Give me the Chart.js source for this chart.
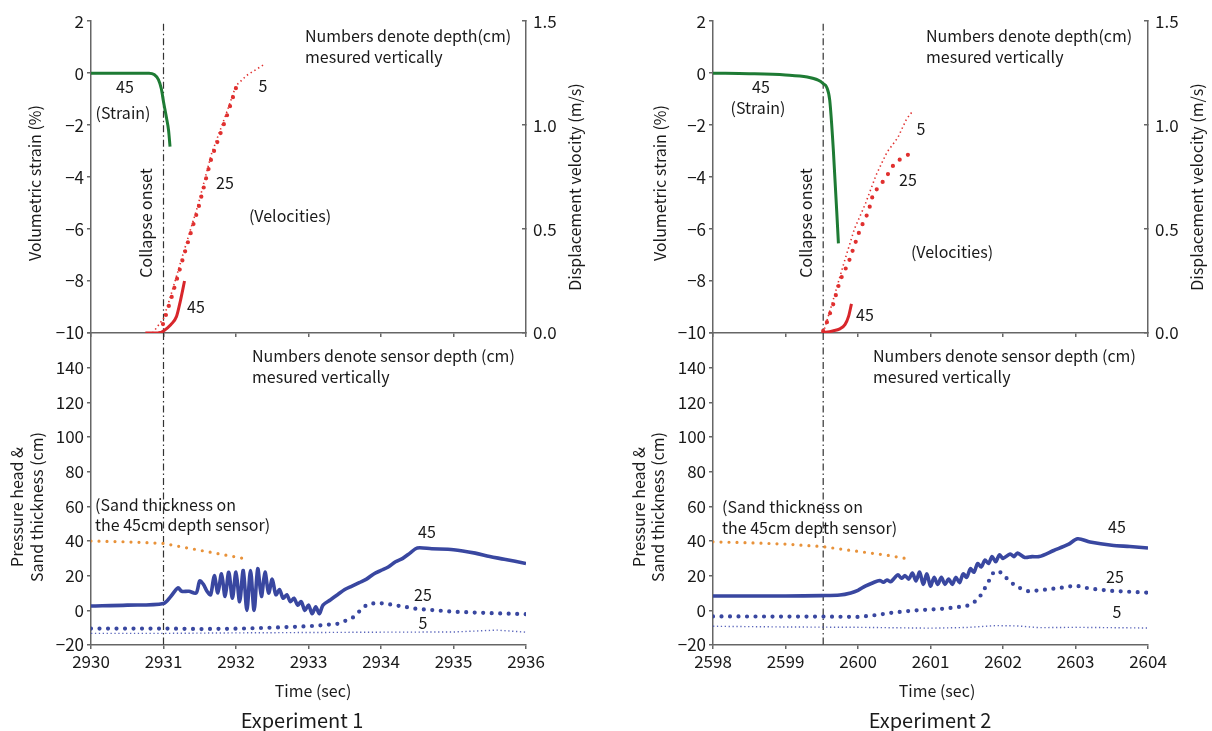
<!DOCTYPE html>
<html>
<head>
<meta charset="utf-8">
<title>Collapse onset — Experiment 1 / Experiment 2</title>
<script src="https://cdn.jsdelivr.net/npm/chart.js@4.4.1/dist/chart.umd.min.js"></script>
<style>
  html, body { margin: 0; padding: 0; background: #fff; }
  #page { position: relative; width: 1212px; height: 731px; overflow: hidden; }
  #page canvas { position: absolute; left: 0; top: 0; }
</style>
</head>
<body>
<div id="page">
  <canvas id="top1" width="1212" height="731"></canvas>
  <canvas id="bot1" width="1212" height="731"></canvas>
  <canvas id="top2" width="1212" height="731"></canvas>
  <canvas id="bot2" width="1212" height="731"></canvas>
</div>
<script>
// ── Datos: [tiempo (s), valor] ─────────────────────────────────────────────────
const timeTicks1 = [2930, 2931, 2932, 2933, 2934, 2935, 2936];
const timeTicks2 = [2598, 2599, 2600, 2601, 2602, 2603, 2604];
const strainTicks = [-10, -8, -6, -4, -2, 0, 2];
const velocityTicks = [0, 0.5, 1.0, 1.5];
const headTicks = [-20, 0, 20, 40, 60, 80, 100, 120, 140, 160];

const onset1 = 2931.0;
const onset2 = 2599.52;

// Experiment 1 — parte superior
const strain1 = [[2930,0],[2930.5,0],[2930.8,0],[2930.87,-0.05],[2930.93,-0.25],[2930.97,-0.6],[2931.0,-1.1],[2931.04,-1.7],[2931.07,-2.2],[2931.09,-2.83]];
const vel45_1 = [[2930.75,0],[2930.95,0],[2931.0,0.01],[2931.1,0.04],[2931.18,0.08],[2931.23,0.15],[2931.29,0.25]];
const vel25_1 = [[2930.95,0],[2931.0,0.05],[2931.11,0.17],[2931.27,0.36],[2931.48,0.60],[2931.66,0.84],[2931.87,1.04],[2932.01,1.19]];
const vel5_1  = [[2930.85,0],[2931.0,0.07],[2931.1,0.18],[2931.27,0.38],[2931.48,0.62],[2931.66,0.86],[2931.87,1.06],[2932.0,1.19],[2932.15,1.24],[2932.38,1.29]];

// Experiment 1 — parte inferior
const head45_1 = [[2930,2.5],[2930.5,3],[2931,4],[2931.1,8],[2931.2,13],[2931.25,11],[2931.35,11],[2931.45,10],[2931.5,17],[2931.55,15],
  [2931.6,11],[2931.65,9],[2931.7,20],[2931.75,10],[2931.8,21],[2931.85,8],[2931.9,22],[2931.95,7],[2932.0,22],[2932.05,5],
  [2932.1,23],[2932.15,0],[2932.2,23],[2932.25,0],[2932.3,24],[2932.35,8],[2932.4,22],[2932.45,10],[2932.5,18],[2932.55,9],
  [2932.6,12],[2932.65,7],[2932.7,9],[2932.75,5],[2932.8,7],[2932.85,3],[2932.9,5],[2932.95,0],[2933.0,3],[2933.05,-2],
  [2933.1,2],[2933.15,-2],[2933.2,3],[2933.3,6],[2933.4,9],[2933.5,12],[2933.6,14],[2933.7,16],[2933.8,18],[2933.9,21],
  [2934.0,23],[2934.1,25],[2934.2,28],[2934.3,30],[2934.4,33],[2934.5,36],[2934.7,35.5],[2935.0,35],[2935.3,33],[2935.5,31],
  [2935.7,29.5],[2936.0,27]];
const head25_1 = [[2930,-10.5],[2930.5,-10.5],[2931,-10.5],[2931.5,-10.8],[2932,-10.6],[2932.5,-10],[2933.0,-9.2],[2933.4,-7.8],[2933.6,-4.6],
  [2933.68,-1.5],[2933.75,1.5],[2933.82,3.6],[2933.95,4.3],[2934.1,3.6],[2934.3,2.2],[2934.5,0.8],[2935,-0.8],[2935.5,-1.6],[2936,-2.2]];
const head5_1 = [[2930,-13.3],[2931,-13.3],[2932,-13],[2933,-12.8],[2934,-12.6],[2935,-12.5],[2935.6,-11.4],[2936,-12.6]];
const sand1 = [[2930,40],[2930.5,39.5],[2931,38.6],[2931.38,35.6],[2931.75,32.7],[2932.16,29.5]];

// Experiment 2 — parte superior
const strain2 = [[2598,0],[2598.5,-0.02],[2599.0,-0.07],[2599.3,-0.15],[2599.45,-0.27],[2599.52,-0.4],[2599.57,-0.55],[2599.61,-1.04],[2599.66,-2.96],[2599.73,-6.55]];
const vel45_2 = [[2599.5,0],[2599.65,0.01],[2599.75,0.02],[2599.82,0.04],[2599.87,0.08],[2599.91,0.14]];
const vel25_2 = [[2599.52,0.01],[2599.55,0.03],[2599.66,0.14],[2599.75,0.25],[2599.87,0.34],[2600.03,0.50],[2600.14,0.58],[2600.21,0.67],[2600.37,0.74],[2600.51,0.82],[2600.65,0.85],[2600.76,0.87]];
const vel5_2  = [[2599.52,0],[2599.65,0.15],[2599.8,0.33],[2599.95,0.5],[2600.1,0.62],[2600.25,0.76],[2600.4,0.87],[2600.55,0.94],[2600.67,1.03],[2600.76,1.07]];

// Experiment 2 — parte inferior
const head45_2 = [[2598,8.3],[2599,8.3],[2599.5,8.5],[2599.75,8.8],[2599.9,10],[2600.0,11.5],[2600.1,14],[2600.2,15.8],[2600.3,17.2],[2600.35,16.2],
  [2600.4,17.5],[2600.45,16.5],[2600.5,18.5],[2600.55,20.5],[2600.6,18.5],[2600.65,20],[2600.7,18],[2600.75,21.5],[2600.8,17],[2600.85,22],
  [2600.9,15],[2600.95,21],[2601.0,14],[2601.05,19],[2601.1,15],[2601.15,19],[2601.2,15],[2601.25,18],[2601.3,15],[2601.35,19],
  [2601.4,16],[2601.45,21],[2601.5,19],[2601.55,24],[2601.6,22],[2601.65,27],[2601.7,25],[2601.75,29],[2601.8,27],[2601.85,31],
  [2601.9,28],[2601.95,32],[2602.0,30],[2602.1,32.5],[2602.15,31],[2602.2,33],[2602.3,30.5],[2602.4,31],[2602.5,31],[2602.7,34.5],
  [2602.9,38],[2603.03,41.3],[2603.2,39.4],[2603.5,37.5],[2603.75,36.8],[2604,36]];
const head25_2 = [[2598,-3.5],[2599,-3.6],[2599.5,-3.6],[2600.0,-3.8],[2600.2,-3],[2600.5,-1.2],[2600.8,0],[2601.2,1],[2601.5,2.5],[2601.6,4.5],
  [2601.7,9],[2601.78,15],[2601.87,22],[2601.95,22.5],[2602.05,18.5],[2602.18,13.7],[2602.35,11],[2602.5,11.5],[2602.8,13],[2603.0,14.3],
  [2603.2,12.5],[2603.5,11.2],[2604,10.2]];
const head5_2 = [[2598,-9.2],[2599,-9.6],[2600,-9.8],[2601,-10.3],[2601.5,-9.9],[2601.9,-8.8],[2602.2,-9.0],[2602.5,-10],[2603,-9.8],[2604,-10.2]];
const sand2 = [[2598,39.5],[2598.5,39],[2599,38.2],[2599.5,36.8],[2600,34],[2600.4,31.8],[2600.72,29.5]];

// ── Estilos / geometría ───────────────────────────────────────────────────────
const W = 1212, H = 731;
const AREA_TOP = 21, AREA_MID = 333, AREA_BOTTOM = 645;
const EXP1 = { left: 91, right: 526 };
const EXP2 = { left: 713, right: 1148 };

const FONT = "'Noto Sans CJK JP', 'Liberation Sans', sans-serif";
const TEXT = '#1a1a1a';
const AXIS = '#666';
const BLUE = '#3947a0', BLUE_LIGHT = '#5b66bb';
const GREEN = '#1e7b34', RED = '#d8262b', RED_DOT = '#e0302f', ORANGE = '#e8923a';

Chart.defaults.font.family = FONT;
Chart.defaults.color = TEXT;

const pts = arr => arr.map(([x, y]) => ({ x, y }));
const minus = v => String(v).replace('-', '\u2212');

const solid  = (data, color, width, yAxisID, tension, smooth) => ({ data: pts(data), borderColor: color, borderWidth: width, yAxisID, pointRadius: 0, cubicInterpolationMode: smooth ? 'monotone' : 'default', tension, borderJoinStyle: 'round' });
const bigDot = (data, color, width, gap, yAxisID) => ({ data: pts(data), borderColor: color, borderWidth: width, borderDash: [0, gap], borderCapStyle: 'round', yAxisID, pointRadius: 0, tension: 0 });
const fine   = (data, color, width, dash, yAxisID) => ({ data: pts(data), borderColor: color, borderWidth: width, borderDash: dash, yAxisID, pointRadius: 0, tension: 0 });
const onsetLine = (t, y0, y1, yAxisID) => ({ data: [{ x: t, y: y0 }, { x: t, y: y1 }], borderColor: '#333', borderWidth: 1.2, borderDash: [7, 3, 1.5, 3], yAxisID, pointRadius: 0 });

const gridOut = { drawOnChartArea: false, drawTicks: true, tickLength: 4, color: AXIS, lineWidth: 1.5 };
const border = { display: true, color: AXIS, width: 1.5 };
const tickFont = { size: 17 };

// ── Textos sobre el lienzo ───────────────────────────────────────────────────
function notesPlugin(notes) {
  return {
    id: 'notes',
    afterDraw(chart) {
      const ctx = chart.ctx;
      ctx.save();
      ctx.fillStyle = TEXT;
      ctx.textBaseline = 'middle';
      notes.forEach(n => {
        ctx.font = `${n.size || 16}px ${FONT}`;
        ctx.textAlign = n.align || 'center';
        ctx.save();
        ctx.translate(n.x, n.y);
        if (n.rotate) ctx.rotate(-Math.PI / 2);
        ctx.fillText(n.text, 0, 0);
        ctx.restore();
      });
      ctx.restore();
    }
  };
}

// ── Panel superior: deformación + velocidades ────────────────────────────────
function topPanel(id, box, ticksT, onset, strain, v45, v25, v5, notes) {
  return new Chart(document.getElementById(id), {
    type: 'line',
    data: {
      datasets: [
        solid(strain, GREEN, 3, 'y', 0, true),
        solid(v45, RED, 3, 'y1', 0, true),
        bigDot(v25, RED_DOT, 4.2, 9.5, 'y1'),
        fine(v5, RED_DOT, 1.6, [1.4, 3], 'y1'),
        onsetLine(onset, 1.9, -10, 'y'),
      ],
    },
    options: {
      responsive: false, animation: false, devicePixelRatio: 1,
      layout: { padding: { left: 0, right: 0, top: AREA_TOP, bottom: H - AREA_MID - 6 } },
      plugins: { legend: { display: false }, tooltip: { enabled: false } },
      scales: {
        x: {
          type: 'linear', min: ticksT[0], max: ticksT[ticksT.length - 1],
          ticks: { display: false, stepSize: 1 },
          grid: gridOut, border,
          afterFit: s => { s.height = 6; },
        },
        y: {
          type: 'linear', position: 'left', min: strainTicks[0], max: strainTicks[strainTicks.length - 1],
          ticks: { stepSize: 2, callback: minus, font: tickFont, padding: 3 },
          grid: gridOut, border,
          afterFit: s => { s.width = box.left; },
        },
        y1: {
          type: 'linear', position: 'right', min: velocityTicks[0], max: velocityTicks[velocityTicks.length - 1],
          ticks: { stepSize: 0.5, callback: v => v.toFixed(1), font: tickFont, padding: 11 },
          grid: { drawOnChartArea: false, drawTicks: true, tickLength: -4, color: AXIS, lineWidth: 1.5 },
          border,
          afterFit: s => { s.width = W - box.right; },
        },
      },
    },
    plugins: [notesPlugin(notes)],
  });
}

// ── Panel inferior: presión + espesor de arena ───────────────────────────────
function bottomPanel(id, box, ticksT, onset, h45, h25, h5, sand, notes) {
  return new Chart(document.getElementById(id), {
    type: 'line',
    data: {
      datasets: [
        solid(h45, BLUE, 3.6, 'y', 0.3, false),
        bigDot(h25, BLUE, 4.2, 8.5, 'y'),
        fine(h5, BLUE_LIGHT, 1.4, [1.3, 2.6], 'y'),
        bigDot(sand, ORANGE, 3.2, 8, 'y'),
        onsetLine(onset, 160, -20, 'y'),
      ],
    },
    options: {
      responsive: false, animation: false, devicePixelRatio: 1,
      layout: { padding: { left: 0, right: W - box.right, top: AREA_MID, bottom: H - AREA_BOTTOM - 40 } },
      plugins: { legend: { display: false }, tooltip: { enabled: false } },
      scales: {
        x: {
          type: 'linear', min: ticksT[0], max: ticksT[ticksT.length - 1],
          ticks: { stepSize: 1, callback: v => String(v), font: tickFont, padding: 2, maxRotation: 0 },
          grid: gridOut, border,
          afterFit: s => { s.height = 40; },
        },
        y: {
          type: 'linear', position: 'left', min: headTicks[0], max: headTicks[headTicks.length - 1],
          ticks: { stepSize: 20, callback: v => (v === 160 ? '' : minus(v)), font: tickFont, padding: 3 },
          grid: gridOut, border,
          afterFit: s => { s.width = box.left; },
        },
      },
    },
    plugins: [notesPlugin(notes)],
  });
}

// ── Montaje ──────────────────────────────────────────────────────────────────
topPanel('top1', EXP1, timeTicks1, onset1, strain1, vel45_1, vel25_1, vel5_1, [
  { text: 'Numbers denote depth(cm)', x: 305, y: 36, align: 'left' },
  { text: 'mesured vertically', x: 305, y: 57, align: 'left' },
  { text: '45', x: 125, y: 87 },
  { text: '(Strain)', x: 123, y: 113 },
  { text: 'Collapse onset', x: 146, y: 223, rotate: true },
  { text: '5', x: 263, y: 86 },
  { text: '25', x: 225, y: 183 },
  { text: '(Velocities)', x: 290, y: 216 },
  { text: '45', x: 196, y: 307 },
  { text: 'Volumetric strain (%)', x: 35, y: 183, rotate: true },
  { text: 'Displacement velocity (m/s)', x: 575, y: 187, rotate: true },
]);

bottomPanel('bot1', EXP1, timeTicks1, onset1, head45_1, head25_1, head5_1, sand1, [
  { text: 'Numbers denote sensor depth (cm)', x: 252, y: 356, align: 'left' },
  { text: 'mesured vertically', x: 252, y: 377, align: 'left' },
  { text: '(Sand thickness on', x: 95, y: 505, align: 'left' },
  { text: 'the 45cm depth sensor)', x: 95, y: 525, align: 'left' },
  { text: '45', x: 427, y: 532 },
  { text: '25', x: 423, y: 595 },
  { text: '5', x: 423, y: 623 },
  { text: 'Time (sec)', x: 313, y: 691 },
  { text: 'Experiment 1', x: 302, y: 720, size: 20 },
  { text: 'Pressure head &', x: 17, y: 507, rotate: true },
  { text: 'Sand thickness (cm)', x: 37, y: 507, rotate: true },
]);

topPanel('top2', EXP2, timeTicks2, onset2, strain2, vel45_2, vel25_2, vel5_2, [
  { text: 'Numbers denote depth(cm)', x: 926, y: 36, align: 'left' },
  { text: 'mesured vertically', x: 926, y: 57, align: 'left' },
  { text: '45', x: 761, y: 87 },
  { text: '(Strain)', x: 758, y: 108 },
  { text: 'Collapse onset', x: 806, y: 223, rotate: true },
  { text: '5', x: 921, y: 129 },
  { text: '25', x: 908, y: 180 },
  { text: '(Velocities)', x: 952, y: 252 },
  { text: '45', x: 865, y: 315 },
  { text: 'Volumetric strain (%)', x: 660, y: 183, rotate: true },
  { text: 'Displacement velocity (m/s)', x: 1197, y: 187, rotate: true },
]);

bottomPanel('bot2', EXP2, timeTicks2, onset2, head45_2, head25_2, head5_2, sand2, [
  { text: 'Numbers denote sensor depth (cm)', x: 873, y: 356, align: 'left' },
  { text: 'mesured vertically', x: 873, y: 377, align: 'left' },
  { text: '(Sand thickness on', x: 722, y: 507, align: 'left' },
  { text: 'the 45cm depth sensor)', x: 722, y: 528, align: 'left' },
  { text: '45', x: 1117, y: 527 },
  { text: '25', x: 1115, y: 577 },
  { text: '5', x: 1117, y: 612 },
  { text: 'Time (sec)', x: 937, y: 691 },
  { text: 'Experiment 2', x: 930, y: 720, size: 20 },
  { text: 'Pressure head &', x: 639, y: 507, rotate: true },
  { text: 'Sand thickness (cm)', x: 658, y: 507, rotate: true },
]);
</script>
</body>
</html>
